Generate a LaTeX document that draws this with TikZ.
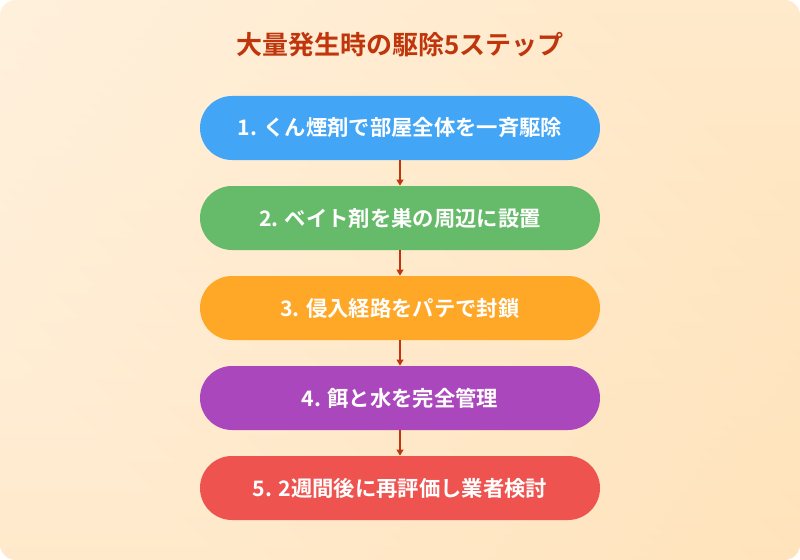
\documentclass[tikz,border=0pt]{standalone}
\usepackage{fontspec}
\newfontfamily\jp{Noto Sans CJK JP}[BoldFont={Noto Sans CJK JP Bold}]
\usetikzlibrary{arrows.meta}
\definecolor{bgA}{HTML}{FFF4E6}
\definecolor{bgB}{HTML}{FFE0B2}
\definecolor{ttl}{HTML}{BF360C}
\definecolor{c1}{HTML}{42A5F5}
\definecolor{c2}{HTML}{66BB6A}
\definecolor{c3}{HTML}{FFA726}
\definecolor{c4}{HTML}{AB47BC}
\definecolor{c5}{HTML}{EF5350}
\begin{document}
\begin{tikzpicture}[x=0.75pt,y=-0.75pt,
  stepbox/.style={draw=none,rounded corners=24pt,minimum width=300pt,minimum height=48pt,text=white,font=\jp\bfseries\fontsize{16}{18}\selectfont},
  arr/.style={draw=ttl,line width=1.1pt,-{Triangle[length=4.5pt,width=5pt]}}]
\useasboundingbox (0,0) rectangle (800,560);
\shade[left color=bgA,right color=bgB,shading angle=135,rounded corners=12pt] (0,0) rectangle (800,560);
\shade[top color=bgA,bottom color=bgB,rounded corners=12pt,opacity=0.5] (0,0) rectangle (800,560);
\node[font=\jp\bfseries\fontsize{19.5}{22}\selectfont,text=ttl] (t) at (400,45) {大量発生時の駆除5ステップ};
\node[stepbox,fill=c1] (s1) at (400,128) {1. くん煙剤で部屋全体を一斉駆除};
\node[stepbox,fill=c2] (s2) at (400,218) {2. ベイト剤を巣の周辺に設置};
\node[stepbox,fill=c3] (s3) at (400,308) {3. 侵入経路をパテで封鎖};
\node[stepbox,fill=c4] (s4) at (400,398) {4. 餌と水を完全管理};
\node[stepbox,fill=c5] (s5) at (400,488) {5. 2週間後に再評価し業者検討};
\draw[arr] (s1.south) -- (s2.north);
\draw[arr] (s2.south) -- (s3.north);
\draw[arr] (s3.south) -- (s4.north);
\draw[arr] (s4.south) -- (s5.north);
\end{tikzpicture}
\end{document}
